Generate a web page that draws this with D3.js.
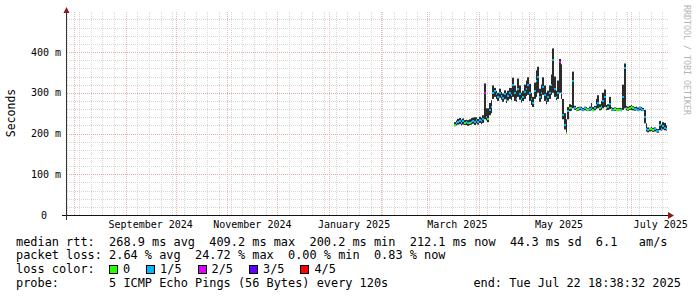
<!DOCTYPE html>
<html>
<head>
<meta charset="utf-8">
<script src="https://cdn.jsdelivr.net/npm/d3@7/dist/d3.min.js"></script>
<style>
body{margin:0;background:#fff;}
text{font-family:"DejaVu Sans Mono",monospace;fill:#000;}
</style>
</head>
<body>
<svg width="697" height="297"></svg>
<script>
// graph window
var endTime = new Date(2025, 6, 22, 18, 38, 32);
var startTime = d3.timeDay.offset(endTime, -360);
var firstSample = new Date(2025, 2, 17);

// one sample per day from firstSample, values in ms
var medianMs = [222,226,229,231,227,230,226,228,225,227,
  229,231,228,232,229,233,231,235,300,240,
  236,258,265,300,305,297,290,300,293,287,
  296,282,291,300,295,318,300,285,310,298,
  285,290,302,310,318,300,285,275,305,330,
  340,290,300,315,295,282,290,300,320,380,
  310,290,300,375,300,245,220,201,255,263,
  262,330,262,258,260,262,261,259,262,260,
  258,261,263,259,262,270,275,262,265,280,
  290,262,265,272,260,259,260,259,258,259,
  258,290,360,262,261,263,264,262,260,261,
  259,262,261,258,240,212,208,210,212,209,
  211,207,206,220,212,218,214,212];
var lowMs = [218,220,222,223,220,222,221,221,219,221,
  222,224,221,225,222,226,223,226,235,232,
  228,245,250,285,290,285,280,288,283,278,
  284,275,281,285,282,290,280,278,290,283,
  276,280,285,292,295,280,270,265,285,290,
  300,278,285,295,280,272,278,285,295,300,
  290,282,285,300,285,235,210,200,235,255,
  256,262,258,255,256,257,257,255,257,256,
  255,256,257,255,257,260,262,257,258,262,
  265,257,258,260,256,256,256,255,255,256,
  255,258,262,257,256,258,258,257,256,257,
  255,257,256,255,225,205,203,205,206,204,
  205,203,202,208,207,210,208,207];
var highMs = [228,232,236,238,234,237,233,234,233,235,
  238,239,240,240,236,241,238,245,323,262,
  262,275,282,318,312,305,300,310,302,298,
  306,300,305,312,312,337,318,305,335,318,
  300,305,320,330,338,322,300,290,325,355,
  364,310,320,338,318,300,305,318,345,409,
  340,305,330,383,370,285,250,235,265,272,
  270,352,268,263,265,266,265,263,266,265,
  262,266,275,265,268,285,294,272,280,300,
  308,270,272,290,265,263,264,263,262,263,
  262,320,372,268,266,268,270,267,265,266,
  264,266,265,263,258,225,215,214,216,214,
  215,212,211,231,222,228,226,220];
// lost pings out of 5
var lossIdx = [0,1,1,1,1,1,0,1,1,0,
  1,1,1,1,1,1,1,1,2,1,
  0,1,1,1,1,1,1,1,1,1,
  1,1,1,1,1,1,1,1,1,1,
  1,1,1,1,1,1,1,1,1,1,
  1,1,1,1,1,1,1,1,1,1,
  1,1,1,2,1,1,1,0,1,0,
  1,1,1,0,0,1,1,1,1,0,
  0,1,1,0,1,1,1,0,1,1,
  1,0,1,1,0,1,0,0,0,0,
  1,1,1,1,0,0,0,0,1,1,
  1,1,1,1,1,1,1,0,0,0,
  1,1,1,1,1,1,1,1];

var yTicks = [0, 100, 200, 300, 400];
// where the month labels are centred
var labelDates = [new Date(2024,8,16), new Date(2024,10,16), new Date(2025,0,16),
  new Date(2025,2,19), new Date(2025,4,19), new Date(2025,6,19)];
var lossNames = ['0', '1/5', '2/5', '3/5', '4/5'];
var lossColors = ['#26ff00', '#00b8ff', '#dd00ff', '#5e00ff', '#ff0000'];

var rttStats = ['268.9 ms avg', '409.2 ms max', '200.2 ms min', '212.1 ms now', '44.3 ms sd', '6.1   am/s'];
var lossStats = ['2.64 % avg', '24.72 % max', '0.00 % min', '0.83 % now'];
var probeText = '5 ICMP Echo Pings (56 Bytes) every 120s';
var endText = 'end: Tue Jul 22 18:38:32 2025';

var plotLeft = 67, plotRight = 667, plotTop = 15, plotBottom = 215;
var svg = d3.select('svg');
svg.append('rect').attr('width', 697).attr('height', 297).attr('fill', '#fff');

var x = d3.scaleTime().domain([startTime, endTime]).range([plotLeft, plotRight]);
var y = d3.scaleLinear().domain([0, 491]).range([plotBottom, plotTop]);
function px(v){ return Math.round(v) + 0.5; }

// grid
var grid = svg.append('g').attr('stroke-dasharray', '1,1').attr('stroke-width', 1);
d3.range(20, 491, 20).forEach(function(v){
  if (v % 100 === 0) return;
  grid.append('line').attr('x1', plotLeft).attr('x2', plotRight + 1)
    .attr('y1', px(y(v))).attr('y2', px(y(v))).attr('stroke', '#d6d6d6');
});
d3.timeSunday.range(startTime, endTime).forEach(function(d){
  grid.append('line').attr('x1', px(x(d))).attr('x2', px(x(d)))
    .attr('y1', 12).attr('y2', plotBottom).attr('stroke', '#d6d6d6');
});
yTicks.slice(1).forEach(function(v){
  grid.append('line').attr('x1', plotLeft).attr('x2', plotRight + 1)
    .attr('y1', px(y(v))).attr('y2', px(y(v))).attr('stroke', '#e6a8a8');
});
d3.timeMonth.range(startTime, endTime).forEach(function(d){
  grid.append('line').attr('x1', px(x(d))).attr('x2', px(x(d)))
    .attr('y1', 12).attr('y2', plotBottom).attr('stroke', '#f4b4b4');
});

// smoke and median
var days = medianMs.map(function(m, i){ return d3.timeDay.offset(firstSample, i); });
var plot = svg.append('g');
days.forEach(function(d, i){
  var x0 = Math.round(x(d)), x1 = Math.max(x0 + 1, Math.round(x(d3.timeDay.offset(d, 1))));
  plot.append('rect').attr('x', x0).attr('width', x1 - x0)
    .attr('y', y(highMs[i])).attr('height', y(lowMs[i]) - y(highMs[i]))
    .attr('fill', '#2b2b2b');
});
days.forEach(function(d, i){
  var x0 = Math.round(x(d)), x1 = Math.max(x0 + 1, Math.round(x(d3.timeDay.offset(d, 1))));
  plot.append('rect').attr('x', x0).attr('width', x1 - x0)
    .attr('y', Math.round(y(medianMs[i])) - 1).attr('height', 2)
    .attr('fill', lossColors[lossIdx[i]]);
});

// axes
svg.append('line').attr('x1', 62).attr('x2', 670).attr('y1', plotBottom + 0.5).attr('y2', plotBottom + 0.5)
  .attr('stroke', '#111');
svg.append('line').attr('x1', plotLeft - 0.5).attr('x2', plotLeft - 0.5).attr('y1', 12).attr('y2', 220)
  .attr('stroke', '#333');
svg.append('path').attr('d', 'M668,212L674,215.5L668,219Z').attr('fill', '#8f1a1a');
svg.append('path').attr('d', 'M63.5,13L66.5,7L69.5,13Z').attr('fill', '#8f1a1a');

// y labels
svg.selectAll('.ylab').data(yTicks).enter().append('text')
  .attr('class', 'ylab')
  .attr('x', function(v){ return v === 0 ? 47 : 61; })
  .attr('y', function(v){ return y(v) + 3.5; })
  .attr('text-anchor', 'end').style('font-size', '10px')
  .text(function(v){ return v === 0 ? '0' : v + ' m'; });

// x labels
var fmt = d3.timeFormat('%B %Y');
svg.selectAll('.xlab').data(labelDates).enter().append('text')
  .attr('class', 'xlab')
  .attr('x', function(d){ return x(d); })
  .attr('y', 228).attr('text-anchor', 'middle').style('font-size', '10px')
  .text(function(d){ return fmt(d); });

svg.append('text').attr('transform', 'translate(15,113) rotate(-90)')
  .attr('text-anchor', 'middle').style('font-size', '11.5px').text('Seconds');
svg.append('text').attr('transform', 'translate(684,5) rotate(90)')
  .style('font-size', '8.3px').style('fill', '#b4b4b4').text('RRDTOOL / TOBI OETIKER');

// legend
var fs = '11.9px', cw = 7.15, lx = 16;
function row(str, yy){
  svg.append('text').attr('x', lx).attr('y', yy).style('font-size', fs)
    .style('white-space', 'pre').text(str);
}
row('median rtt:  ' + rttStats.join('  '), 245.5);
row('packet loss: ' + lossStats.join('  '), 259);
row('loss color:', 273);
var bx = lx + 13 * cw;
lossNames.forEach(function(n, i){
  svg.append('rect').attr('x', Math.round(bx) + 0.5).attr('y', 265.5).attr('width', 8).attr('height', 8)
    .attr('fill', lossColors[i]).attr('stroke', '#000');
  svg.append('text').attr('x', bx + 14).attr('y', 273).style('font-size', fs).text(n);
  bx += 14 + n.length * cw + 16;
});
row('probe:       ' + probeText, 287);
svg.append('text').attr('x', 681).attr('y', 287).attr('text-anchor', 'end')
  .style('font-size', fs).text(endText);
</script>
</body>
</html>
